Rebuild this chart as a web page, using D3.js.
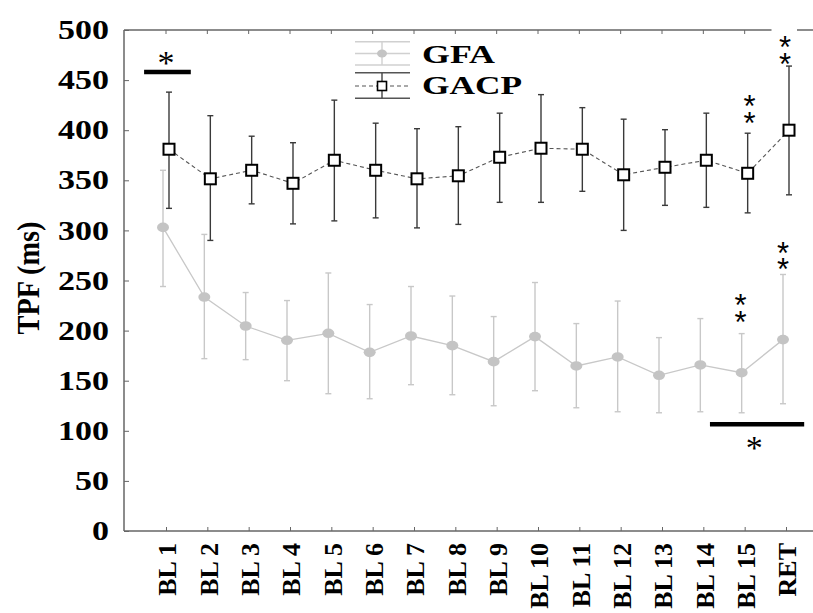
<!DOCTYPE html>
<html>
<head>
<meta charset="utf-8">
<script src="https://cdn.jsdelivr.net/npm/d3@7"></script>
<style>
  html, body { margin: 0; padding: 0; background: #fff; }
  svg { display: block; }
  text { font-family: "Liberation Serif", "Times New Roman", serif; font-weight: bold; }
</style>
</head>
<body>
<svg id="chart" width="813" height="613"></svg>
<script>
// ---------------- data ----------------
const categories = ["BL 1","BL 2","BL 3","BL 4","BL 5","BL 6","BL 7","BL 8","BL 9","BL 10","BL 11","BL 12","BL 13","BL 14","BL 15","RET"];
const gfaMean  = [303, 233.5, 204.6, 190.3, 197.3, 178.3, 194.6, 185, 169, 194, 164.7, 173.7, 155.4, 165.7, 158, 191];
const gfaUpper = [360, 296, 238, 230, 257.5, 226, 244, 234.5, 214, 248, 207, 229.5, 193, 212, 197, 256];
const gfaLower = [244, 172, 171, 150, 137, 132, 146, 136, 125, 140, 123, 119, 118, 119, 118, 127];
const gacpMean  = [381, 351.5, 360, 347, 370, 360, 351.5, 354.5, 373, 382, 381, 355.5, 363, 370, 357, 400];
const gacpUpper = [438, 414.5, 394, 387.5, 430, 407, 401.5, 403.5, 417, 435.5, 422.5, 411, 400.5, 417, 397, 464];
const gacpLower = [322, 290, 326.5, 306.5, 309.5, 312.5, 302.5, 306, 328, 328, 339, 300, 325, 323, 317.5, 335.5];
const yTicks = [0, 50, 100, 150, 200, 250, 300, 350, 400, 450, 500];
const seriesNames = ["GFA", "GACP"];
const yLabel = "TPF (ms)";
// significance bars: category-index span and value level; single star position
const sigBarFrom = [-0.53, 13.16];
const sigBarTo   = [0.6, 15.44];
const sigBarValue = [458, 106.5];
const sigStarIndex = [0, 14.23];
const sigStarValue = [473, 89];
// double stars: category, series, value at the upper star
const dblStarCat    = ["BL 15", "RET", "BL 15", "RET"];
const dblStarSeries = ["GACP", "GACP", "GFA", "GFA"];
const dblStarValue  = [430, 489, 231.5, 283.7];

// ---------------- layout ----------------
const svg = d3.select("#chart");
const pLeft = 124, pTop = 30, pBottom = 531, pRight = 813;
const y = d3.scaleLinear().domain([0, 500]).range([pBottom, pTop]);
const x = d3.scalePoint().domain(categories).range([166, 786]);
const xi = d3.scaleLinear().domain([0, categories.length - 1]).range([166, 786]);
const offset = { GFA: -3, GACP: 3 };
const dblStarNudge = [2, -4, -1, 0];

const gfa = categories.map((c, i) => ({ c, m: gfaMean[i], lo: gfaLower[i], hi: gfaUpper[i] }));
const gacp = categories.map((c, i) => ({ c, m: gacpMean[i], lo: gacpLower[i], hi: gacpUpper[i] }));

const axisColor = "#666";

// top frame line with gap near RET
svg.append("line").attr("x1", pLeft).attr("x2", 771.5).attr("y1", pTop).attr("y2", pTop)
  .attr("stroke", axisColor).attr("stroke-width", 1.5);
svg.append("line").attr("x1", 797).attr("x2", pRight).attr("y1", pTop).attr("y2", pTop)
  .attr("stroke", axisColor).attr("stroke-width", 1.5);
// top ticks (inward)
svg.append("g").selectAll("line").data(categories.slice(0, categories.length - 1)).join("line")
  .attr("x1", d => x(d)).attr("x2", d => x(d)).attr("y1", pTop).attr("y2", pTop + 4)
  .attr("stroke", axisColor).attr("stroke-width", 1);

// left axis
const yAxis = d3.axisRight(y).tickValues(yTicks).tickSize(5).tickFormat("");
const gy = svg.append("g").attr("transform", `translate(${pLeft},0)`).call(yAxis);
gy.select(".domain").attr("stroke", axisColor).attr("stroke-width", 1.5).attr("d", `M0,${pTop}V${pBottom}`);
gy.selectAll(".tick line").attr("stroke", axisColor);
// y tick labels
svg.append("g").selectAll("text").data(yTicks).join("text")
  .attr("x", 109).attr("y", d => y(d)).attr("dy", "0.34em")
  .attr("text-anchor", "end").attr("font-size", 27)
  .attr("textLength", d => String(d).length * 17).attr("lengthAdjust", "spacingAndGlyphs")
  .attr("fill", "#000").text(d => d);

// bottom axis
const xAxis = d3.axisTop(x).tickSize(4).tickFormat("");
const gx = svg.append("g").attr("transform", `translate(0,${pBottom})`).call(xAxis);
gx.select(".domain").attr("stroke", axisColor).attr("stroke-width", 1.5).attr("d", `M${pLeft},0H${pRight}`);
gx.selectAll(".tick line").attr("stroke", axisColor);
// x labels rotated
svg.append("g").selectAll("text").data(categories).join("text")
  .attr("transform", d => `translate(${x(d) + 1},543) rotate(-90)`)
  .attr("dy", "0.36em").attr("text-anchor", "end").attr("font-size", 26)
  .attr("fill", "#000").text(d => d);

// y label
svg.append("text").attr("transform", "translate(28,278) rotate(-90)")
  .attr("dy", "0.36em").attr("text-anchor", "middle").attr("font-size", 31)
  .attr("textLength", 113).attr("lengthAdjust", "spacingAndGlyphs")
  .attr("fill", "#000").text(yLabel);

// ---------------- GFA series ----------------
const gfaColor = "#c8c8c8";
const gGfa = svg.append("g");
gGfa.append("path").datum(gfa)
  .attr("d", d3.line().x(d => x(d.c) + offset.GFA).y(d => y(d.m)))
  .attr("fill", "none").attr("stroke", gfaColor).attr("stroke-width", 1.3);
const gfaEb = gGfa.selectAll("g.eb").data(gfa).join("g");
gfaEb.append("line").attr("x1", d => x(d.c) + offset.GFA).attr("x2", d => x(d.c) + offset.GFA)
  .attr("y1", d => y(d.lo)).attr("y2", d => y(d.hi)).attr("stroke", gfaColor).attr("stroke-width", 1.4);
gfaEb.append("line").attr("x1", d => x(d.c) + offset.GFA - 3).attr("x2", d => x(d.c) + offset.GFA + 3)
  .attr("y1", d => y(d.hi)).attr("y2", d => y(d.hi)).attr("stroke", gfaColor).attr("stroke-width", 1.4);
gfaEb.append("line").attr("x1", d => x(d.c) + offset.GFA - 3).attr("x2", d => x(d.c) + offset.GFA + 3)
  .attr("y1", d => y(d.lo)).attr("y2", d => y(d.lo)).attr("stroke", gfaColor).attr("stroke-width", 1.4);
gGfa.selectAll("ellipse").data(gfa).join("ellipse")
  .attr("cx", d => x(d.c) + offset.GFA).attr("cy", d => y(d.m))
  .attr("rx", 6).attr("ry", 4.8).attr("fill", "#c4c4c4");

// ---------------- GACP series ----------------
const gacpColor = "#3a3a3a";
const gGacp = svg.append("g");
gGacp.append("path").datum(gacp)
  .attr("d", d3.line().x(d => x(d.c) + offset.GACP).y(d => y(d.m)))
  .attr("fill", "none").attr("stroke", "#555").attr("stroke-width", 1.1).attr("stroke-dasharray", "4,3");
const gacpEb = gGacp.selectAll("g.eb").data(gacp).join("g");
gacpEb.append("line").attr("x1", d => x(d.c) + offset.GACP).attr("x2", d => x(d.c) + offset.GACP)
  .attr("y1", d => y(d.lo)).attr("y2", d => y(d.hi)).attr("stroke", gacpColor).attr("stroke-width", 1.4);
gacpEb.append("line").attr("x1", d => x(d.c) + offset.GACP - 3).attr("x2", d => x(d.c) + offset.GACP + 3)
  .attr("y1", d => y(d.hi)).attr("y2", d => y(d.hi)).attr("stroke", gacpColor).attr("stroke-width", 1.4);
gacpEb.append("line").attr("x1", d => x(d.c) + offset.GACP - 3).attr("x2", d => x(d.c) + offset.GACP + 3)
  .attr("y1", d => y(d.lo)).attr("y2", d => y(d.lo)).attr("stroke", gacpColor).attr("stroke-width", 1.4);
gGacp.selectAll("rect").data(gacp).join("rect")
  .attr("x", d => x(d.c) + offset.GACP - 5.5).attr("y", d => y(d.m) - 5.5)
  .attr("width", 11).attr("height", 11)
  .attr("fill", "#fff").attr("stroke", "#000").attr("stroke-width", 2);

// ---------------- significance annotations ----------------
svg.append("g").selectAll("line").data(sigBarValue).join("line")
  .attr("x1", (d, i) => xi(sigBarFrom[i])).attr("x2", (d, i) => xi(sigBarTo[i]))
  .attr("y1", d => y(d)).attr("y2", d => y(d))
  .attr("stroke", "#000").attr("stroke-width", 4.5);
svg.append("g").selectAll("text").data(sigStarValue).join("text")
  .attr("x", (d, i) => xi(sigStarIndex[i])).attr("y", d => y(d) + 17)
  .attr("text-anchor", "middle").attr("font-size", 34)
  .style("font-weight", "normal").attr("fill", "#000").text("*");

// double stars: one "**" text running downward, each glyph turned back upright
const dbl = svg.append("g");
const fsStar = 31;
dblStarValue.forEach((v, i) => {
  const cx = x(dblStarCat[i]) + offset[dblStarSeries[i]] + dblStarNudge[i];
  const cy = y(v);
  dbl.append("text")
    .attr("transform", `translate(${cx - 0.195 * fsStar},${cy + 0.55 * fsStar}) rotate(90)`)
    .attr("rotate", "-90")
    .attr("font-size", fsStar).attr("letter-spacing", 16.5 - 0.389 * fsStar)
    .style("font-family", "'Liberation Sans', Arial, sans-serif").style("font-weight", "normal")
    .attr("fill", "#000").text("**");
});

// ---------------- legend ----------------
const lg = svg.append("g");
const lx0 = 355, lx1 = 410, lcx = 382;
// GFA symbol
[41.7, 65].forEach(yy => lg.append("line").attr("x1", lx0).attr("x2", lx1).attr("y1", yy).attr("y2", yy)
  .attr("stroke", "#d0d0d0").attr("stroke-width", 1.4));
lg.append("line").attr("x1", lx0).attr("x2", lx1).attr("y1", 53.5).attr("y2", 53.5)
  .attr("stroke", "#d0d0d0").attr("stroke-width", 1.4);
lg.append("line").attr("x1", lcx).attr("x2", lcx).attr("y1", 41.7).attr("y2", 65)
  .attr("stroke", "#d0d0d0").attr("stroke-width", 1.4);
lg.append("ellipse").attr("cx", lcx).attr("cy", 53.5).attr("rx", 5).attr("ry", 4).attr("fill", "#c4c4c4");
// GACP symbol
[72.7, 98.3].forEach(yy => lg.append("line").attr("x1", lx0).attr("x2", lx1).attr("y1", yy).attr("y2", yy)
  .attr("stroke", "#555").attr("stroke-width", 1.4));
lg.append("line").attr("x1", lx0).attr("x2", lx1).attr("y1", 86).attr("y2", 86)
  .attr("stroke", "#555").attr("stroke-width", 1.1).attr("stroke-dasharray", "4,3");
lg.append("line").attr("x1", lcx).attr("x2", lcx).attr("y1", 72.7).attr("y2", 98.3)
  .attr("stroke", "#444").attr("stroke-width", 1.4);
lg.append("rect").attr("x", lcx - 4.5).attr("y", 81.5).attr("width", 9).attr("height", 9)
  .attr("fill", "#fff").attr("stroke", "#000").attr("stroke-width", 1.6);
// legend texts
lg.append("text").attr("x", 422).attr("y", 63).attr("font-size", 25)
  .attr("textLength", 73).attr("lengthAdjust", "spacingAndGlyphs").attr("fill", "#000").text(seriesNames[0]);
lg.append("text").attr("x", 422).attr("y", 93.5).attr("font-size", 25)
  .attr("textLength", 100).attr("lengthAdjust", "spacingAndGlyphs").attr("fill", "#000").text(seriesNames[1]);
</script>
</body>
</html>
